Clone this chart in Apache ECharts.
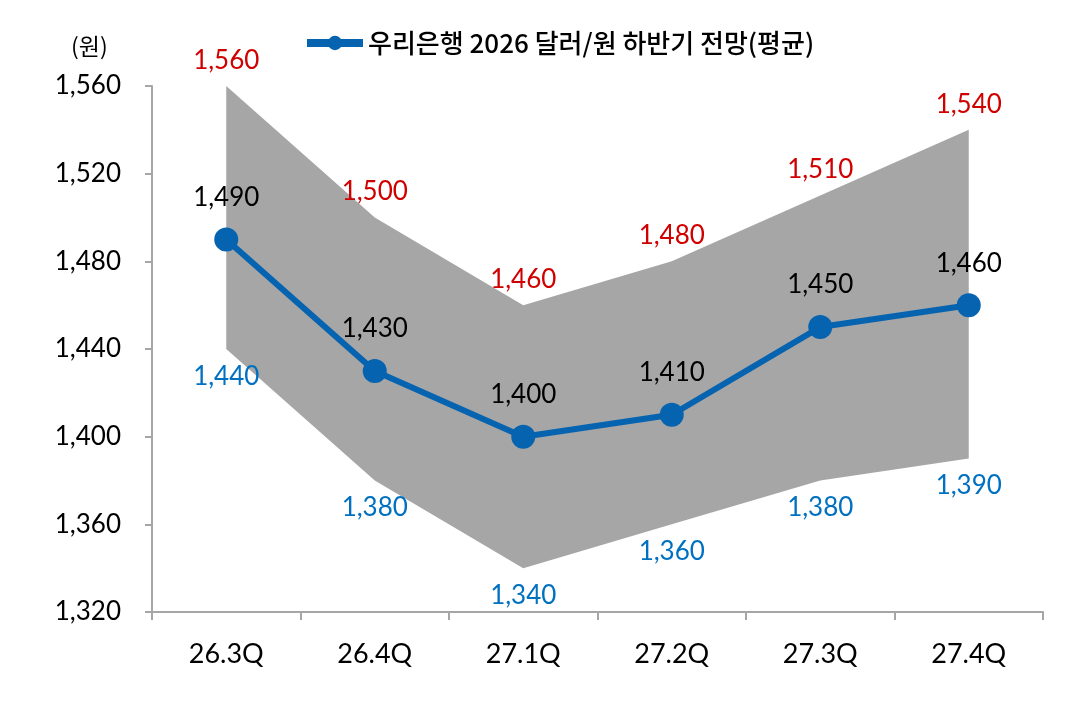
<!DOCTYPE html>
<html>
<head>
<meta charset="utf-8">
<script src="https://cdn.jsdelivr.net/npm/echarts@6/dist/echarts.min.js"></script>
<style>
  html, body { margin: 0; padding: 0; background: #fff; }
  #chart { width: 1076px; height: 706px; }
</style>
</head>
<body>
<div id="chart"></div>
<script>
const categories = ["26.3Q", "26.4Q", "27.1Q", "27.2Q", "27.3Q", "27.4Q"];
const meanValues = [1490, 1430, 1400, 1410, 1450, 1460];
const highValues = [1560, 1500, 1460, 1480, 1510, 1540];
const lowValues = [1440, 1380, 1340, 1360, 1380, 1390];
const yTicks = [1320, 1360, 1400, 1440, 1480, 1520, 1560];

const FONT = "Lato, 'Noto Sans CJK KR', sans-serif";
const KR_FONT = "'Noto Sans CJK KR', sans-serif";
const fmt = v => Number(v).toLocaleString("en-US");

// 밴드 = 하단값 + (상단-하단) 스택
const bandDiff = highValues.map((h, i) => h - lowValues[i]);

const chart = echarts.init(document.getElementById("chart"));

chart.setOption({
  backgroundColor: "#fff",
  animation: false,
  title: {
    text: "(원)",
    left: 66,
    top: 30,
    textStyle: { fontFamily: KR_FONT, fontSize: 23, fontWeight: "normal", color: "#000" },
  },
  legend: {
    data: ["우리은행 2026 달러/원 하반기 전망(평균)"],
    top: 25,
    left: 298,
    itemWidth: 56,
    itemHeight: 18,
    itemGap: 4,
    lineStyle: { width: 8 },
    textStyle: { fontFamily: KR_FONT, fontSize: 26, fontWeight: 500, color: "#000" },
  },
  grid: { left: 152, right: 33, top: 86, bottom: 94 },
  xAxis: {
    type: "category",
    data: categories,
    boundaryGap: true,
    axisLine: { lineStyle: { color: "#a6a6a6", width: 2 } },
    axisTick: { show: true, length: 8, lineStyle: { color: "#a6a6a6", width: 2 } },
    axisLabel: { margin: 29, fontFamily: FONT, fontSize: 27, color: "#000" },
  },
  yAxis: {
    type: "value",
    min: yTicks[0],
    max: yTicks[yTicks.length - 1],
    interval: 40,
    axisLine: { show: true, lineStyle: { color: "#a6a6a6", width: 2 } },
    axisTick: { show: true, length: 7, lineStyle: { color: "#a6a6a6", width: 2 } },
    splitLine: { show: false },
    axisLabel: { margin: 31, fontFamily: FONT, fontSize: 26, color: "#000", formatter: v => fmt(v) },
  },
  series: [
    {
      name: "low",
      type: "line",
      stack: "band",
      data: lowValues,
      lineStyle: { opacity: 0 },
      symbol: "circle",
      symbolSize: 1,
      itemStyle: { color: "rgba(0,0,0,0)" },
      label: {
        show: true,
        position: "bottom",
        distance: 14,
        color: "#0070c0",
        fontFamily: FONT,
        fontSize: 26,
        formatter: p => fmt(lowValues[p.dataIndex]),
      },
      z: 1,
    },
    {
      name: "band",
      type: "line",
      stack: "band",
      data: bandDiff,
      lineStyle: { opacity: 0 },
      areaStyle: { color: "#a6a6a6", opacity: 1 },
      symbol: "circle",
      symbolSize: 1,
      itemStyle: { color: "rgba(0,0,0,0)" },
      label: {
        show: true,
        position: "top",
        distance: 12,
        color: "#d00000",
        fontFamily: FONT,
        fontSize: 26,
        formatter: p => fmt(highValues[p.dataIndex]),
      },
      z: 1,
    },
    {
      name: "우리은행 2026 달러/원 하반기 전망(평균)",
      type: "line",
      data: meanValues,
      symbol: "circle",
      symbolSize: 24,
      lineStyle: { color: "#0563b0", width: 6 },
      itemStyle: { color: "#0563b0" },
      label: {
        show: true,
        position: "top",
        distance: 17,
        color: "#000",
        fontFamily: FONT,
        fontSize: 26,
        formatter: p => fmt(p.value),
      },
      z: 3,
    },
  ],
});
</script>
</body>
</html>
